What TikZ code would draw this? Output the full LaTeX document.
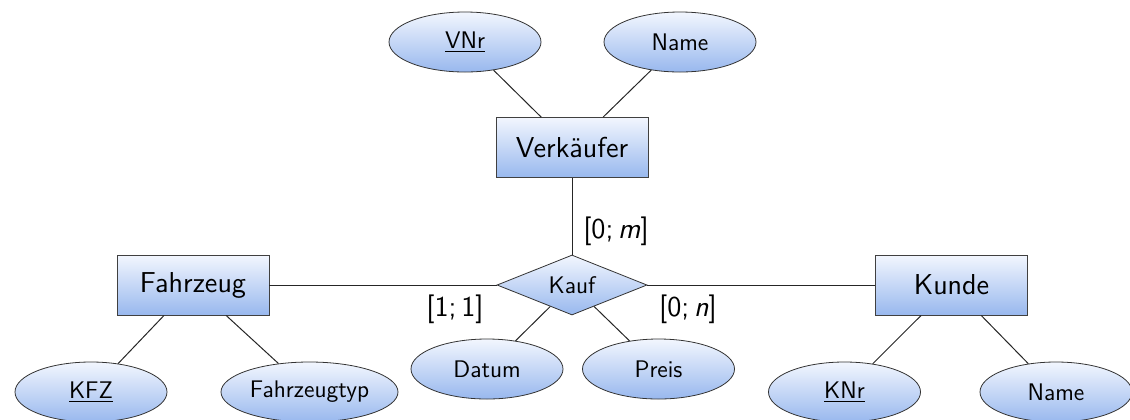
\documentclass[tikz,border=0pt]{standalone}
\usetikzlibrary{shapes.geometric}
\definecolor{topc}{RGB}{242,246,254}
\definecolor{botc}{RGB}{152,184,238}
\begin{document}
\begin{tikzpicture}[x=0.5pt,y=-0.5pt,
  entity/.style={rectangle, draw=black!75, top color=topc, bottom color=botc,
    minimum width=76pt, minimum height=30pt, inner sep=0pt,
    font=\sffamily\fontsize{14.4}{17}\selectfont},
  attr/.style={ellipse, draw=black!80, top color=topc, bottom color=botc,
    minimum width=76pt, minimum height=30pt, inner sep=0.5pt,
    font=\sffamily\fontsize{12}{14}\selectfont},
  rel/.style={diamond, draw=black!80, top color=topc, bottom color=botc,
    minimum width=75pt, minimum height=30pt, aspect=2.5, inner sep=0pt,
    font=\sffamily\fontsize{12}{14}\selectfont},
  lbl/.style={inner sep=0pt, font=\sffamily\fontsize{14.4}{17}\selectfont},
  conn/.style={draw=black!85, line width=0.5pt}]
\useasboundingbox (0,0) rectangle (1130,419);
% entities
\node[entity] (verk) at (572,147.5) {Verkäufer};
\node[entity] (fz) at (193,285) {Fahrzeug};
\node[entity] (kd) at (951.5,285) {Kunde};
% relationship
\node[rel] (kauf) at (572,285) {Kauf};
% attributes
\node[attr] (vnr) at (465,42) {\underline{VNr}};
\node[attr] (vname) at (680,42) {Name};
\node[attr] (kfz) at (91,392) {\underline{KFZ}};
\node[attr, minimum width=88.5pt] (fztyp) at (309.5,392) {Fahrzeugtyp};
\node[attr] (datum) at (487,369) {Datum};
\node[attr] (preis) at (658.5,369) {Preis};
\node[attr] (knr) at (844.5,392) {\underline{KNr}};
\node[attr] (kname) at (1056,392) {Name};
% connectors
\draw[conn] (vnr) -- (verk);
\draw[conn] (vname) -- (verk);
\draw[conn] (verk) -- (kauf);
\draw[conn] (fz) -- (kauf);
\draw[conn] (kauf) -- (kd);
\draw[conn] (kfz) -- (fz);
\draw[conn] (fztyp) -- (fz);
\draw[conn] (datum) -- (kauf);
\draw[conn] (preis) -- (kauf);
\draw[conn] (knr) -- (kd);
\draw[conn] (kname) -- (kd);
% labels
\node[lbl] (lm) at (616,231) {[0;\,\textit{m}]};
\node[lbl] (l11) at (455,309) {[1;\,1]};
\node[lbl] (ln) at (688,309) {[0;\,\textit{n}]};
\end{tikzpicture}
\end{document}
